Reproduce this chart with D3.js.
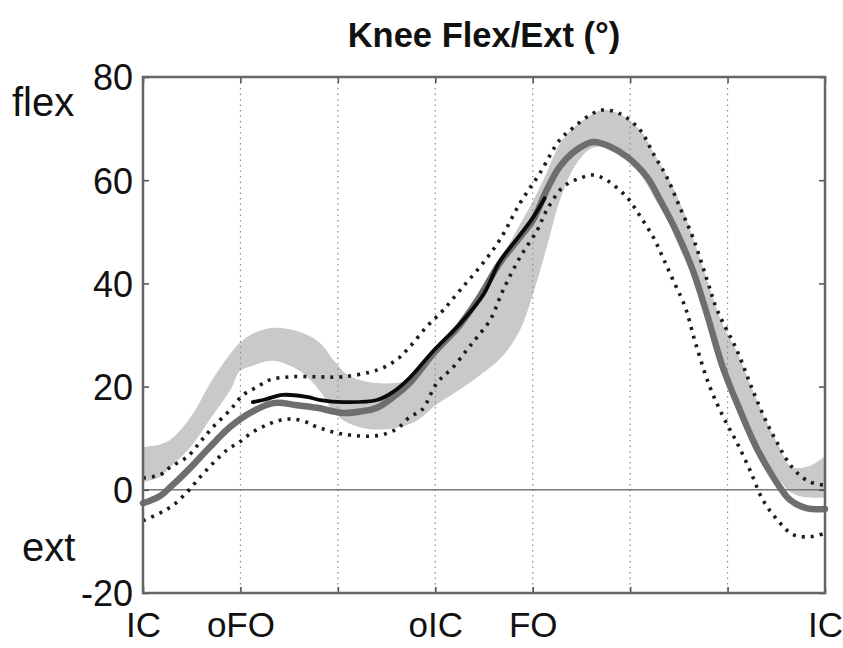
<!DOCTYPE html>
<html>
<head>
<meta charset="utf-8">
<script src="https://cdn.jsdelivr.net/npm/d3@7"></script>
<style>
  html, body { margin: 0; padding: 0; background: #fff; }
  svg { display: block; }
  text { font-family: "Liberation Sans", Arial, Helvetica, sans-serif; fill: #111; }
</style>
</head>
<body>
<svg id="chart" width="843" height="648"></svg>
<script>
// Gait-cycle events along x (percent of normalised cycle)
const phaseTicks  = [0, 100 / 7, 200 / 7, 300 / 7, 400 / 7, 500 / 7, 600 / 7, 100];
const phaseLabels = ["IC", "oFO", "", "oIC", "FO", "", "", "IC"];
const yTicks = [-20, 0, 20, 40, 60, 80];

// Reference band (normal range): x, upper, lower
const bandPct   = [0, 2.5, 4, 7, 10, 13, 14.2, 16, 19, 23, 26, 28, 30, 33, 37, 40, 43, 46.5, 50, 52.8, 55.3, 57.2, 59.2, 61.1, 63, 65.5, 67.4, 70, 73, 75, 77, 79, 81, 83, 85, 87, 89.4, 91.5, 93, 95, 97.5, 100];
const bandUpper = [8.3, 8.8, 9.7, 14.1, 21, 26.7, 28.5, 30.2, 31.4, 30.6, 28.4, 25, 22.3, 20.9, 20.7, 21.5, 27.5, 32.5, 39.5, 45.5, 51.5, 56, 61.5, 67, 70, 72.5, 73.6, 72.8, 69.5, 65, 60.5, 54.8, 47.5, 39.5, 32, 27, 19.3, 13, 9.1, 4.5, 4.5, 6.5];
const bandLower = [1.5, 2.5, 4.4, 8.3, 14, 19.8, 23, 24, 25, 23, 19, 15, 13, 11.8, 12, 13.3, 16.5, 19.5, 22.8, 26, 31, 38, 47, 56, 62, 66, 66.5, 65, 61, 56.5, 52, 46, 41, 33, 24, 17, 10.5, 5.5, 2.5, -0.5, -1.5, -1.5];

// Mean knee angle (thick grey curve)
const meanPct = [0, 2.5, 4, 6.9, 9.8, 12.8, 15.7, 19.1, 22.6, 25.5, 29.3, 32, 34.3, 36.7, 39.1, 42.5, 46.5, 49.4, 52.3, 55.3, 57.2, 59.2, 61.1, 63.6, 66, 68.5, 71, 73.9, 75.8, 78.3, 80.6, 82.7, 85, 87.5, 89.9, 92.4, 94.9, 97.4, 100];
const meanDeg = [-2.6, -1.2, 0.5, 4.2, 8.3, 12.2, 14.9, 16.8, 16.4, 15.9, 14.9, 15.2, 15.9, 18, 20.7, 26.3, 32, 37.5, 43.9, 49, 52.3, 58.1, 62.6, 65.9, 67.4, 66.5, 64.5, 60.6, 56.2, 49.8, 42.6, 34, 23.8, 15.5, 8.3, 2.5, -2, -3.6, -3.7];

// Single-trial curve (black), mid-stance to toe-off
const trialPct = [16.1, 17.6, 20.5, 24, 26, 29.3, 34.3, 36.7, 39.1, 42.5, 46.5, 49.9, 52.3, 55.3, 57.2, 58.9];
const trialDeg = [17.0, 17.4, 18.4, 18, 17.4, 17, 17.4, 19, 21.7, 26.8, 32.2, 37.8, 44.2, 49.4, 52.8, 56.5];

// Upper and lower standard-deviation curves (dotted)
const sdUpperPct = [0, 2.5, 4, 6.5, 8.4, 10.3, 12.8, 14.7, 16.7, 18.6, 21.6, 25.5, 29.3, 34.3, 37.2, 39.1, 41.6, 44, 46.5, 49.4, 52.3, 55.3, 58.2, 61.1, 63, 65.5, 67.4, 69.9, 72.9, 74.8, 76.8, 78.7, 80.6, 82.7, 84.2, 87.1, 89.4, 91.5, 93, 94.4, 95.9, 97.8, 100];
const sdUpperDeg = [2.3, 2.9, 4.4, 6.4, 9.3, 12.2, 15.5, 18.4, 19.9, 21.3, 21.9, 21.9, 21.9, 23.2, 25.2, 27.7, 31.6, 34.8, 38.7, 43.2, 48.4, 55.6, 61.4, 67.8, 70.1, 72.6, 73.6, 72.9, 69.7, 65.2, 60.6, 54.8, 49, 40.7, 34.8, 27, 19.3, 12.9, 9.1, 5.8, 3.3, 1.5, 0.9];
const sdLowerPct = [0, 2.5, 4.4, 6.5, 8.4, 10.3, 12.3, 14.2, 16.1, 18.2, 20.1, 22, 24, 25.5, 29.3, 34.3, 37.2, 39.1, 40.9, 43.1, 45.5, 47.5, 49, 50.9, 52.8, 55.3, 57.8, 59.2, 61.6, 64.1, 66, 68, 71, 72.9, 74.8, 76.2, 77.7, 79.5, 81, 83.1, 85.1, 87.1, 89, 90.9, 93, 95.3, 97.8, 100];
const sdLowerDeg = [-6, -4.5, -3, -0.4, 2.5, 5.2, 7.7, 9.3, 11.2, 12.6, 13.5, 13.7, 13.1, 12.2, 10.8, 10.5, 11.8, 14.1, 15.5, 20.7, 23.8, 27.1, 29.6, 32.9, 38.7, 45.1, 50.3, 54.2, 58.7, 60.4, 61, 60, 56.6, 53, 49, 45.1, 40.7, 35.4, 28.5, 20, 14.1, 9.1, 3.8, -2, -5.8, -8.7, -9.1, -8.4];

const svg = d3.select("#chart");
const plotL = 143, plotR = 825, plotT = 77, plotB = 593;

const x = d3.scaleLinear().domain([0, 100]).range([plotL, plotR]);
const y = d3.scaleLinear().domain([-20, 80]).range([plotB, plotT]);

const zip = (xs, ys) => xs.map((v, i) => [v, ys[i]]);
const curve = d3.curveCatmullRom.alpha(0.5);
const line = d3.line().x(d => x(d[0])).y(d => y(d[1])).curve(curve);

// Normal-range band
const area = d3.area()
  .x((d, i) => x(bandPct[i]))
  .y0((d, i) => y(bandLower[i]))
  .y1((d, i) => y(bandUpper[i]))
  .curve(curve);
svg.append("path")
  .datum(bandPct)
  .attr("d", area)
  .attr("fill", "#c9c9c9");

// Dotted vertical lines at gait events
svg.append("g").selectAll("line")
  .data(phaseTicks.slice(1, -1))
  .join("line")
  .attr("x1", d => x(d)).attr("x2", d => x(d))
  .attr("y1", plotT).attr("y2", plotB)
  .attr("stroke", "#8c8c8c")
  .attr("stroke-width", 1.2)
  .attr("stroke-dasharray", "1.5,4");

// Zero reference line
svg.append("line")
  .attr("x1", plotL).attr("x2", plotR)
  .attr("y1", y(0)).attr("y2", y(0))
  .attr("stroke", "#777")
  .attr("stroke-width", 1.5);

// Standard-deviation curves
[zip(sdUpperPct, sdUpperDeg), zip(sdLowerPct, sdLowerDeg)].forEach(pts => {
  svg.append("path")
    .datum(pts)
    .attr("d", line)
    .attr("fill", "none")
    .attr("stroke", "#1c1c1c")
    .attr("stroke-width", 3.6)
    .attr("stroke-dasharray", "3,6");
});

// Mean curve
svg.append("path")
  .datum(zip(meanPct, meanDeg))
  .attr("d", line)
  .attr("fill", "none")
  .attr("stroke", "#6e6e6e")
  .attr("stroke-width", 6.5)
  .attr("stroke-linecap", "round");

// Single trial
svg.append("path")
  .datum(zip(trialPct, trialDeg))
  .attr("d", line)
  .attr("fill", "none")
  .attr("stroke", "#0a0a0a")
  .attr("stroke-width", 3.8)
  .attr("stroke-linecap", "round");

// Axes with inward ticks on every side
const axisStyle = g => {
  g.select(".domain").remove();
  g.selectAll(".tick line").attr("stroke", "#555").attr("stroke-width", 1.6);
};

svg.append("g")
  .attr("transform", `translate(${plotL},0)`)
  .call(d3.axisLeft(y).tickValues(yTicks).tickSizeInner(-6).tickSizeOuter(0).tickPadding(10)
    .tickFormat(d => String(d)))
  .call(axisStyle)
  .call(g => g.selectAll(".tick text").attr("font-size", 36).attr("fill", "#111").attr("dy", "0.36em"));

svg.append("g")
  .attr("transform", `translate(${plotR},0)`)
  .call(d3.axisRight(y).tickValues(yTicks).tickSizeInner(-6).tickSizeOuter(0).tickFormat(""))
  .call(axisStyle);

svg.append("g")
  .attr("transform", `translate(0,${plotB})`)
  .call(d3.axisBottom(x).tickValues(phaseTicks).tickSizeInner(-6).tickSizeOuter(0)
    .tickPadding(19).tickFormat((d, i) => phaseLabels[i]))
  .call(axisStyle)
  .call(g => g.selectAll(".tick text").attr("font-size", 35).attr("fill", "#111"));

svg.append("g")
  .attr("transform", `translate(0,${plotT})`)
  .call(d3.axisTop(x).tickValues(phaseTicks).tickSizeInner(-6).tickSizeOuter(0).tickFormat(""))
  .call(axisStyle);

// Plot frame
svg.append("rect")
  .attr("x", plotL).attr("y", plotT)
  .attr("width", plotR - plotL).attr("height", plotB - plotT)
  .attr("fill", "none")
  .attr("stroke", "#666")
  .attr("stroke-width", 2.5);

// Direction labels
svg.append("text").attr("x", 12).attr("y", 116)
  .attr("font-size", 40).text("flex");
svg.append("text").attr("x", 22).attr("y", 561)
  .attr("font-size", 40).text("ext");

// Title
svg.append("text")
  .attr("x", (plotL + plotR) / 2).attr("y", 47)
  .attr("text-anchor", "middle")
  .attr("font-size", 34.5)
  .attr("font-weight", "bold")
  .text("Knee Flex/Ext (°)");
</script>
</body>
</html>
